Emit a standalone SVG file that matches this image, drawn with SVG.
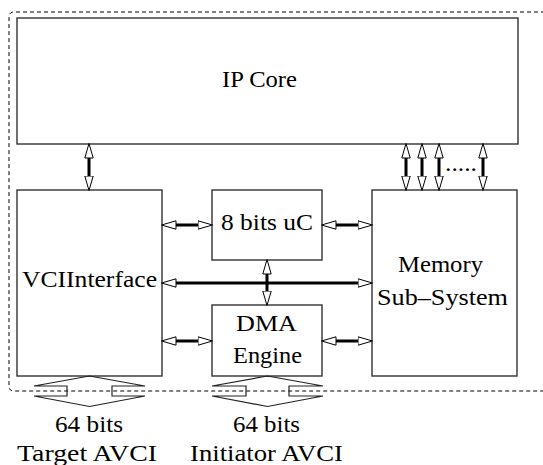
<svg xmlns="http://www.w3.org/2000/svg" width="543" height="465" viewBox="0 0 543 465">
<style>
.box{fill:#fff;stroke:#333;stroke-width:1.4}
.t{font-family:'Liberation Serif','Times New Roman',Times,serif;font-size:23px;fill:#000}
.shaft{stroke:#000;stroke-width:3;fill:none;marker-start:url(#h);marker-end:url(#h)}
.wide{fill:none;stroke:#222;stroke-width:1.2;stroke-linejoin:miter}
</style>
<defs>
<marker id="h" markerUnits="userSpaceOnUse" markerWidth="16" markerHeight="10" viewBox="0 0 16 10" refX="0.5" refY="5" orient="auto-start-reverse">
<path d="M0.5,0.8 L15,5 L0.5,9.2 Z" fill="#fff" stroke="#000" stroke-width="1"/>
</marker>
</defs>
<rect width="543" height="465" fill="#fff"/>
<path d="M545,12 H14 Q9,12 9,17 V386 Q9,391 14,391 H545" fill="none" stroke="#000" stroke-width="1" stroke-dasharray="4 3"/>
<g id="ipcore">
<rect class="box" x="17" y="18" width="501" height="126"/>
<text class="t" font-family="Liberation Serif" x="222" y="87" textLength="75" lengthAdjust="spacingAndGlyphs">IP Core</text>
</g>
<g id="vci">
<rect class="box" x="17" y="190" width="145" height="186"/>
<text class="t" x="22" y="287" textLength="135" lengthAdjust="spacingAndGlyphs">VCIInterface</text>
</g>
<g id="uc">
<rect class="box" x="212" y="190" width="110" height="70"/>
<text class="t" x="221" y="230" textLength="92" lengthAdjust="spacingAndGlyphs">8 bits uC</text>
</g>
<g id="dma">
<rect class="box" x="212" y="305" width="110" height="71"/>
<text class="t" x="236" y="330.5" textLength="61" lengthAdjust="spacingAndGlyphs">DMA</text>
<text class="t" x="233" y="363" textLength="69" lengthAdjust="spacingAndGlyphs">Engine</text>
</g>
<g id="memory">
<rect class="box" x="372" y="190" width="145" height="186"/>
<text class="t" x="398" y="272" textLength="85" lengthAdjust="spacingAndGlyphs">Memory</text>
<text class="t" x="377" y="305" textLength="131" lengthAdjust="spacingAndGlyphs">Sub–System</text>
</g>
<g id="connectors">
<line class="shaft" x1="89" y1="158" x2="89" y2="176"/>
<line class="shaft" x1="406" y1="158" x2="406" y2="176"/>
<line class="shaft" x1="422" y1="158" x2="422" y2="176"/>
<line class="shaft" x1="439" y1="158" x2="439" y2="176"/>
<line class="shaft" x1="483" y1="158" x2="483" y2="176"/>
<text class="t" x="445" y="170.5" textLength="32" lengthAdjust="spacingAndGlyphs">.....</text>
<line class="shaft" x1="176" y1="225" x2="198" y2="225"/>
<line class="shaft" x1="336" y1="225" x2="358" y2="225"/>
<line class="shaft" x1="176" y1="341" x2="198" y2="341"/>
<line class="shaft" x1="336" y1="341" x2="358" y2="341"/>
<line class="shaft" x1="176" y1="283" x2="358" y2="283"/>
<line class="shaft" x1="267" y1="274" x2="267" y2="291"/>
<polygon class="wide" points="89.5,376 145,386 112,386 112,396 145,396 89.5,406.5 34,396 67,396 67,386 34,386"/>
<polygon class="wide" points="267.5,376 323,386 289,386 289,396 323,396 267.5,406.5 212,396 246,396 246,386 212,386"/>
</g>
<g id="labels">
<text class="t" x="55" y="432" textLength="68" lengthAdjust="spacingAndGlyphs">64 bits</text>
<text class="t" x="17" y="460.5" textLength="140" lengthAdjust="spacingAndGlyphs">Target AVCI</text>
<text class="t" x="233" y="432" textLength="67" lengthAdjust="spacingAndGlyphs">64 bits</text>
<text class="t" x="190" y="460.5" textLength="153" lengthAdjust="spacingAndGlyphs">Initiator AVCI</text>
</g>
</svg>
